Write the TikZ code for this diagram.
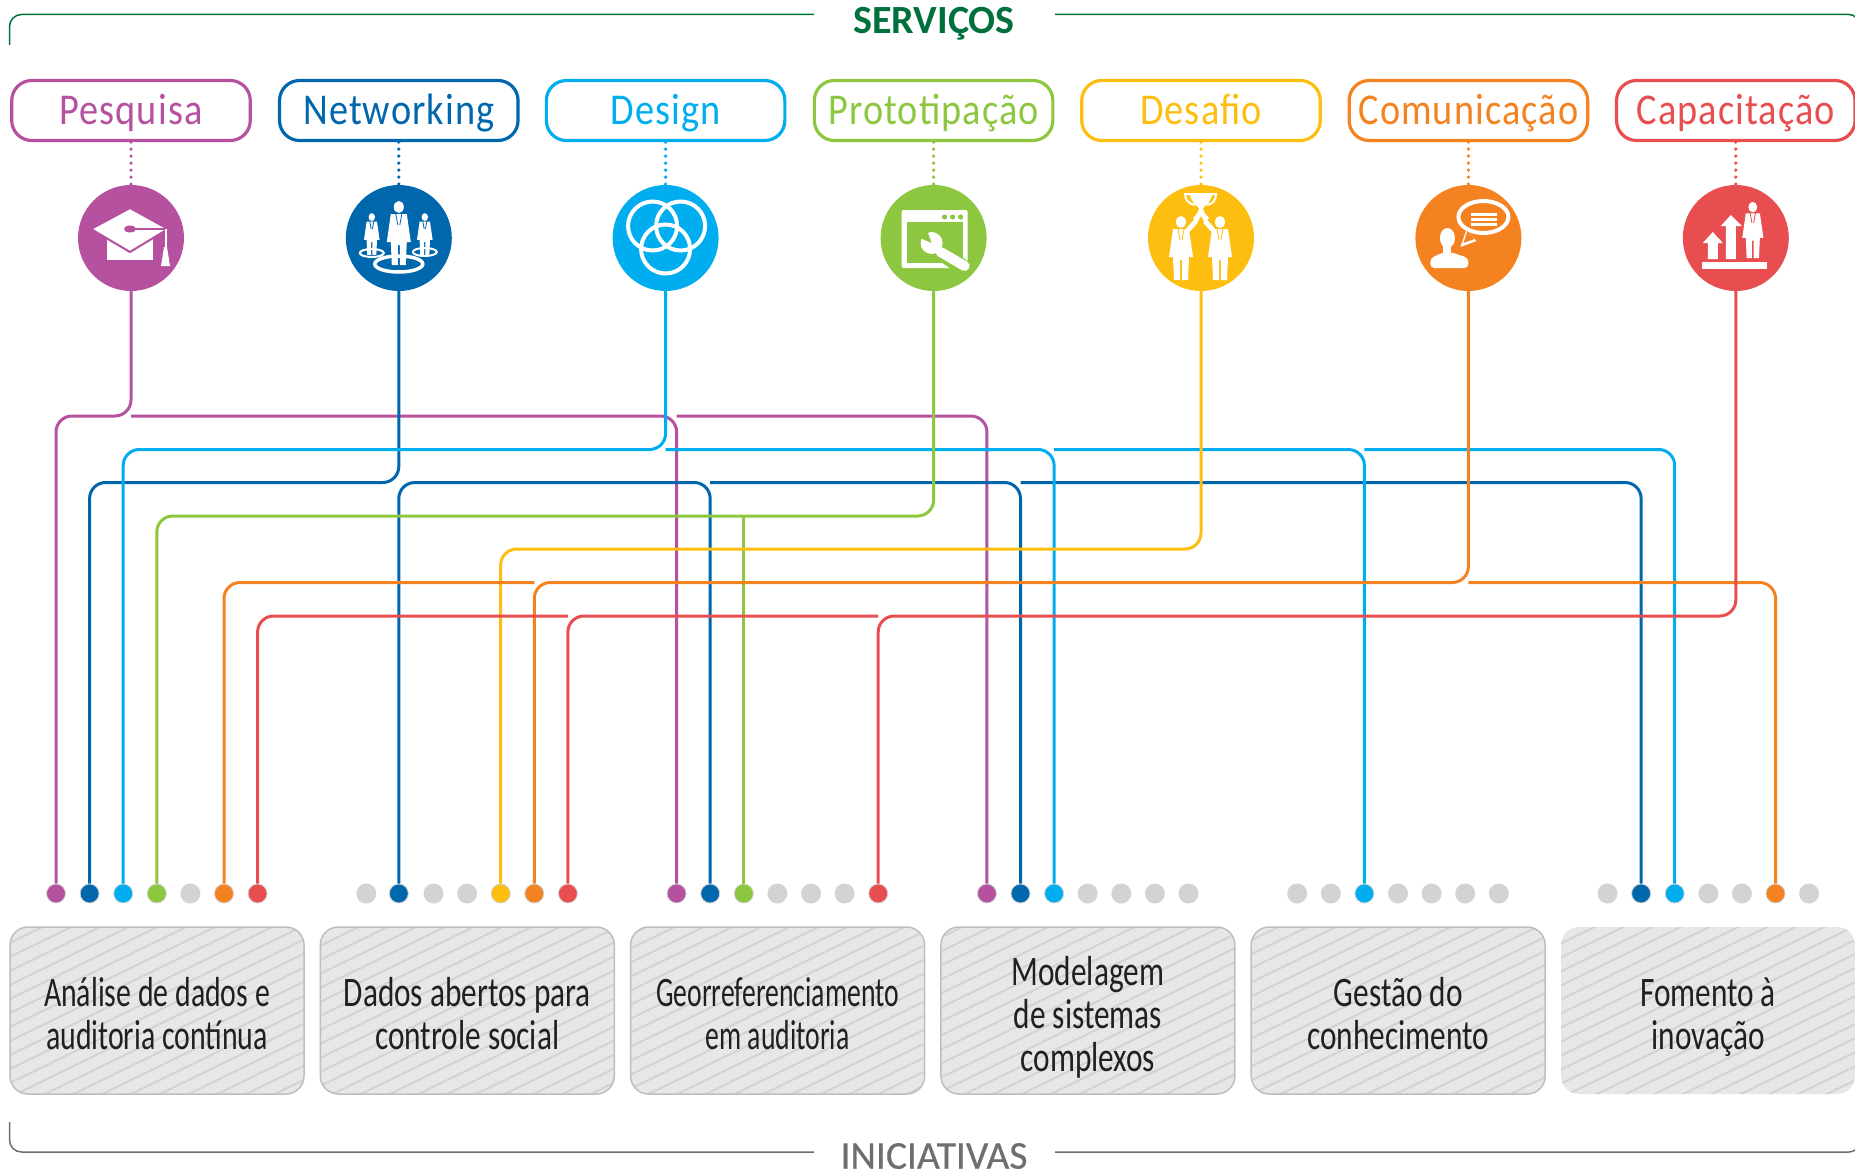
\documentclass[tikz,border=0pt]{standalone}
\usepackage{fontspec}
\usetikzlibrary{patterns.meta}
\newfontfamily\srvfont[FakeStretch=0.87,LetterSpace=2.5]{Carlito}
\newfontfamily\initfont[FakeStretch=0.745]{Carlito}
\newfontfamily\initsnug[FakeStretch=0.71]{Carlito}
\newfontfamily\initnarrow[FakeStretch=0.66]{Carlito}
\newfontfamily\headfont{Carlito}
\newfontfamily\headmid[FakeBold=0.5]{Carlito}
\definecolor{pesq}{HTML}{B5519F}
\definecolor{netw}{HTML}{0067AC}
\definecolor{desg}{HTML}{00AEEF}
\definecolor{prot}{HTML}{8DC63F}
\definecolor{desf}{HTML}{FDBE10}
\definecolor{comu}{HTML}{F58220}
\definecolor{capa}{HTML}{E84E4F}
\definecolor{headgreen}{HTML}{00703C}
\definecolor{headgray}{HTML}{6D6E71}
\definecolor{dotgray}{HTML}{D1D3D4}
\definecolor{initbg}{HTML}{E6E7E8}
\definecolor{initline}{HTML}{BCBEC0}
\definecolor{inittext}{HTML}{231F20}
\newcommand{\inittop}{\rule{0pt}{46pt}}
\newcommand{\initbot}{\rule[-11pt]{0pt}{11pt}}
\newcommand{\suitman}[4]{%
    \begin{scope}[shift={(#1,#2)},scale=#3]
        \fill[white] (0,-26) ellipse (5 and 6);
        \fill[white] (-8,-19) -- (8,-19) -- (12,9) -- (8,9) -- (7,32) -- (1,32) -- (1,12) -- (-1,12) -- (-1,32) -- (-7,32) -- (-8,9) -- (-12,9) -- cycle;
        \draw[#4,line width=0.8pt] (-3,-19) -- (-1,-8) (3,-19) -- (1,-8);
    \end{scope}}

\begin{document}
\begin{tikzpicture}
        [
            x = 1pt, y = -1pt,
            srvbox/.style = {draw = #1, text = #1, line width = 3.2pt, rounded corners = 20pt, minimum width = 238.5pt, minimum height = 60pt, inner sep = 0pt, text height = 28pt, text depth = 1pt, font = \srvfont\fontsize{44}{44}\selectfont},
            iconball/.style = {circle, fill = #1, minimum size = 106pt, inner sep = 0pt},
            dotlink/.style = {draw = #1, line width = 3.6pt, line cap = round, dash pattern = on 0pt off 7pt},
            wire/.style = {draw = #1, line width = 3pt, rounded corners = 16pt},
            stub/.style = {draw = #1, line width = 3pt},
            dot/.style = {circle, fill = #1, draw = dotgray, line width = 0.8pt, minimum size = 19pt, inner sep = 0pt},
            offdot/.style = {circle, fill = dotgray, minimum size = 20pt, inner sep = 0pt},
            initbox/.style = {draw = initline, line width = 1.5pt, rounded corners = 18pt, minimum width = 294pt, minimum height = 167pt, inner sep = 0pt, align = center, text = inittext, preaction = {fill = initbg}, pattern = {Lines[angle = 26, distance = 12.6pt, line width = 2pt]}, pattern color = dotgray, font = \initfont\fontsize{42}{43}\selectfont},
            headtext/.style = {inner sep = 0pt, font = \headfont\bfseries\fontsize{40}{40}\selectfont}
        ]

        \useasboundingbox (0,0) rectangle (1855,1172);

        \node [headtext, text = headgreen] (servicos) at (934,24) {SERVIÇOS};
        \node [headtext, text = headgray, font = \headmid\fontsize{39.5}{39.5}\selectfont] (iniciativas) at (934,1156) {INICIATIVAS};
        \coordinate (topleft) at (9.5,45);
        \coordinate (topstop) at (814,14.5);
        \coordinate (topstart) at (1055,14.5);
        \coordinate (topright) at (1859,40);
        \coordinate (botleft) at (9.5,1122);
        \coordinate (botstop) at (814,1152);
        \coordinate (botstart) at (1055,1152);
        \coordinate (botright) at (1859,1130);
        \draw [headgreen, line width = 1.5pt, rounded corners = 12pt] (topleft) -- (topleft |- topstop) -- (topstop);
        \draw [headgreen, line width = 1.5pt, rounded corners = 10pt] (topstart) -- (topright |- topstart) -- (topright);
        \draw [headgray, line width = 1.5pt, rounded corners = 12pt] (botleft) -- (botleft |- botstop) -- (botstop);
        \draw [headgray, line width = 1.5pt, rounded corners = 10pt] (botstart) -- (botright |- botstart) -- (botright);

        \node [srvbox = pesq] (srvpesq) at (131,110.5) {Pesquisa};
        \node [srvbox = netw] (srvnetw) at (398.8,110.5) {Networking};
        \node [srvbox = desg] (srvdesg) at (665.6,110.5) {Design};
        \node [srvbox = prot] (srvprot) at (933.6,110.5) {Prototipação};
        \node [srvbox = desf] (srvdesf) at (1201,110.5) {Desafio};
        \node [srvbox = comu] (srvcomu) at (1468.4,110.5) {Comunicação};
        \node [srvbox = capa] (srvcapa) at (1735.8,110.5) {Capacitação};

        \node [iconball = pesq] (icpesq) at (131,238) {};
        \node [iconball = netw] (icnetw) at (398.8,238) {};
        \node [iconball = desg] (icdesg) at (665.6,238) {};
        \node [iconball = prot] (icprot) at (933.6,238) {};
        \node [iconball = desf] (icdesf) at (1201,238) {};
        \node [iconball = comu] (iccomu) at (1468.4,238) {};
        \node [iconball = capa] (iccapa) at (1735.8,238) {};

        \draw [dotlink = pesq] (srvpesq) -- (icpesq);
        \draw [dotlink = netw] (srvnetw) -- (icnetw);
        \draw [dotlink = desg] (srvdesg) -- (icdesg);
        \draw [dotlink = prot] (srvprot) -- (icprot);
        \draw [dotlink = desf] (srvdesf) -- (icdesf);
        \draw [dotlink = comu] (srvcomu) -- (iccomu);
        \draw [dotlink = capa] (srvcapa) -- (iccapa);

        \node [dot = pesq] (d11) at (56,893.5) {};
        \node [dot = netw] (d12) at (89.6,893.5) {};
        \node [dot = desg] (d13) at (123.2,893.5) {};
        \node [dot = prot] (d14) at (156.8,893.5) {};
        \node [offdot] (d15) at (190.4,893.5) {};
        \node [dot = comu] (d16) at (224,893.5) {};
        \node [dot = capa] (d17) at (257.6,893.5) {};
        \node [offdot] (d21) at (366.3,893.5) {};
        \node [dot = netw] (d22) at (398.8,893.5) {};
        \node [offdot] (d23) at (433.5,893.5) {};
        \node [offdot] (d24) at (467.1,893.5) {};
        \node [dot = desf] (d25) at (500.7,893.5) {};
        \node [dot = comu] (d26) at (534.3,893.5) {};
        \node [dot = capa] (d27) at (567.9,893.5) {};
        \node [dot = pesq] (d31) at (676.6,893.5) {};
        \node [dot = netw] (d32) at (710.2,893.5) {};
        \node [dot = prot] (d33) at (743.8,893.5) {};
        \node [offdot] (d34) at (777.4,893.5) {};
        \node [offdot] (d35) at (811,893.5) {};
        \node [offdot] (d36) at (844.6,893.5) {};
        \node [dot = capa] (d37) at (878.2,893.5) {};
        \node [dot = pesq] (d41) at (986.9,893.5) {};
        \node [dot = netw] (d42) at (1020.5,893.5) {};
        \node [dot = desg] (d43) at (1054.1,893.5) {};
        \node [offdot] (d44) at (1087.7,893.5) {};
        \node [offdot] (d45) at (1121.3,893.5) {};
        \node [offdot] (d46) at (1154.9,893.5) {};
        \node [offdot] (d47) at (1188.5,893.5) {};
        \node [offdot] (d51) at (1297.2,893.5) {};
        \node [offdot] (d52) at (1330.8,893.5) {};
        \node [dot = desg] (d53) at (1364.4,893.5) {};
        \node [offdot] (d54) at (1398,893.5) {};
        \node [offdot] (d55) at (1431.6,893.5) {};
        \node [offdot] (d56) at (1465.2,893.5) {};
        \node [offdot] (d57) at (1498.8,893.5) {};
        \node [offdot] (d61) at (1607.5,893.5) {};
        \node [dot = netw] (d62) at (1641.1,893.5) {};
        \node [dot = desg] (d63) at (1674.7,893.5) {};
        \node [offdot] (d64) at (1708.3,893.5) {};
        \node [offdot] (d65) at (1741.9,893.5) {};
        \node [dot = comu] (d66) at (1775.5,893.5) {};
        \node [offdot] (d67) at (1809.1,893.5) {};

        \coordinate (buspesq) at (0,416);
        \coordinate (busdesg) at (0,449.5);
        \coordinate (busnetw) at (0,482.5);
        \coordinate (busprot) at (0,516);
        \coordinate (busdesf) at (0,549);
        \coordinate (buscomu) at (0,582.5);
        \coordinate (buscapa) at (0,616);

        \draw [wire = pesq] (icpesq) -- (icpesq |- buspesq) -- (d11 |- buspesq) -- (d11);
        \draw [wire = pesq] (icpesq |- buspesq) -- (d31 |- buspesq) -- (d31);
        \draw [wire = pesq] (d31 |- buspesq) -- (d41 |- buspesq) -- (d41);

        \draw [wire = netw] (icnetw) -- (icnetw |- busnetw) -- (d12 |- busnetw) -- (d12);
        \draw [wire = netw] (d22) -- (d22 |- busnetw) -- (d32 |- busnetw) -- (d32);
        \draw [wire = netw] (d32 |- busnetw) -- (d42 |- busnetw) -- (d42);
        \draw [wire = netw] (d42 |- busnetw) -- (d62 |- busnetw) -- (d62);

        \draw [wire = desg] (icdesg) -- (icdesg |- busdesg) -- (d13 |- busdesg) -- (d13);
        \draw [wire = desg] (icdesg |- busdesg) -- (d43 |- busdesg) -- (d43);
        \draw [wire = desg] (d43 |- busdesg) -- (d53 |- busdesg) -- (d53);
        \draw [wire = desg] (d53 |- busdesg) -- (d63 |- busdesg) -- (d63);

        \draw [wire = prot] (icprot) -- (icprot |- busprot) -- (d14 |- busprot) -- (d14);
        \draw [stub = prot] (d33 |- busprot) -- (d33);

        \draw [wire = desf] (icdesf) -- (icdesf |- busdesf) -- (d25 |- busdesf) -- (d25);

        \draw [wire = comu] (iccomu) -- (iccomu |- buscomu) -- (d26 |- buscomu) -- (d26);
        \draw [wire = comu] (d26 |- buscomu) -- (d16 |- buscomu) -- (d16);
        \draw [wire = comu] (iccomu |- buscomu) -- (d66 |- buscomu) -- (d66);

        \draw [wire = capa] (iccapa) -- (iccapa |- buscapa) -- (d37 |- buscapa) -- (d37);
        \draw [wire = capa] (d37 |- buscapa) -- (d27 |- buscapa) -- (d27);
        \draw [wire = capa] (d27 |- buscapa) -- (d17 |- buscapa) -- (d17);

        \node [initbox, font = \initsnug\fontsize{42}{43}\selectfont] (init1) at (157,1010.5) {\inittop Análise de dados e\\\initbot auditoria contínua};
        \node [initbox] (init2) at (467.3,1010.5) {\inittop Dados abertos para\\\initbot controle social};
        \node [initbox, font = \initnarrow\fontsize{42}{43}\selectfont] (init3) at (777.6,1010.5) {\inittop Georreferenciamento\\\initbot em auditoria};
        \node [initbox] (init4) at (1087.9,1010.5) {\inittop Modelagem\\de sistemas\\\initbot complexos};
        \node [initbox] (init5) at (1398.2,1010.5) {\inittop Gestão do\\\initbot conhecimento};
        \node [initbox, draw = none] (init6) at (1708,1010.5) {\inittop Fomento à\\\initbot inovação};

        \begin{scope}[shift = {(icpesq)}]
            \fill [white] (-24,-2) -- (22,-2) -- (22,22) -- (-24,22) -- cycle;
            \draw [pesq, fill = white, line width = 2pt, line join = round] (-40,-9) -- (-1,-30) -- (37,-9) -- (-1,14) -- cycle;
            \fill [pesq] (-1,-9) ellipse (6 and 3.5);
            \draw [pesq, line width = 1.5pt] (-1,-9) -- (36,-9);
            \draw [white, line width = 1.5pt] (35,-9) -- (35,10);
            \fill [white] (33,9) -- (36,9) -- (39,28) -- (30,28) -- cycle;
        \end{scope}

        \begin{scope}[shift = {(icnetw)}]
            \draw [white, line width = 2pt] (-27,15) ellipse (12 and 4);
            \draw [white, line width = 2pt] (26,14) ellipse (12 and 4);
            \draw [netw, fill = netw, line width = 3pt] (0,26) ellipse (24 and 8);
            \draw [white, line width = 3.5pt] (0,26) ellipse (24 and 8);
            \suitman{0}{-5}{1}{netw}
            \suitman{-27}{-4}{0.65}{netw}
            \suitman{26}{-4}{0.65}{netw}
        \end{scope}

        \begin{scope}[shift = {(icdesg)}]
            \draw [white, line width = 4pt] (-13,-12) circle (24.5);
            \draw [white, line width = 4pt] (15,-12) circle (24.5);
            \draw [white, line width = 4pt] (0,11) circle (24.5);
        \end{scope}

        \begin{scope}[shift = {(icprot)}]
            \fill [white, rounded corners = 1.5pt] (-32,-28) rectangle (34,30);
            \fill [prot] (-27,-16) rectangle (29,25);
            \fill [prot] (11,-21) circle (2.6);
            \fill [prot] (19,-21) circle (2.6);
            \fill [prot] (27,-21) circle (2.6);
            \draw [prot, line width = 16pt] (7,14) -- (33,32);
            \fill [prot] (-2,5) circle (14);
            \draw [white, line width = 10pt, line cap = round] (7,14) -- (31,28);
            \fill [white] (-2,5) circle (11);
            \fill [prot] (-2,5) -- (-7,-9) -- (-16,-1) -- cycle;
        \end{scope}

        \begin{scope}[shift = {(icdesf)}]
            \suitman{-20}{10}{1}{desf}
            \suitman{19}{10}{1}{desf}
            \draw [white, line width = 5pt] (-13,-8) -- (-5,-17);
            \draw [white, line width = 5pt] (12,-8) -- (4,-17);
            \fill [white] (-11,-45) -- (11,-45) .. controls (11,-37) and (5,-33) .. (2,-30) -- (3,-26) -- (8,-20) -- (4,-15) -- (0,-22) -- (-4,-15) -- (-8,-20) -- (-3,-26) -- (-2,-30) .. controls (-5,-33) and (-11,-37) .. (-11,-45) -- cycle;
            \draw [white, line width = 2pt] (-11,-44) -- (-16,-44) .. controls (-16,-38) and (-12,-34) .. (-6,-33);
            \draw [white, line width = 2pt] (11,-44) -- (15,-44) .. controls (15,-38) and (12,-34) .. (6,-33);
        \end{scope}

        \begin{scope}[shift = {(iccomu)}]
            \fill [white] (-8,9) -- (-2,-8) -- (8,3) -- cycle;
            \draw [white, line width = 4pt, fill = comu] (15,-21) ellipse (25 and 16);
            \fill [comu] (-5,5) -- (-1,-7) -- (6,1) -- cycle;
            \fill [white] (3,-25.5) rectangle (29,-22.5);
            \fill [white] (3,-20.5) rectangle (29,-17.5);
            \fill [white] (3,-15.5) rectangle (29,-12.5);
            \fill [white] (-21,0) ellipse (7.5 and 10);
            \fill [white] (-25,5) rectangle (-17,15);
            \fill [white, rounded corners = 4pt] (-38,30) -- (-38,20) -- (-24,14) -- (-18,14) -- (0,20) -- (0,30) -- cycle;
        \end{scope}

        \begin{scope}[shift = {(iccapa)}]
            \fill [white] (-34,24) rectangle (31,31);
            \fill [white] (-23,-6) -- (-13,5) -- (-18,5) -- (-18,21) -- (-28,21) -- (-28,5) -- (-33,5) -- cycle;
            \fill [white] (-5,-23) -- (6,-12) -- (0,-12) -- (0,21) -- (-10,21) -- (-10,-12) -- (-15,-12) -- cycle;
            \suitman{17}{-8}{0.88}{capa}
        \end{scope}
    \end{tikzpicture}
\end{document}
